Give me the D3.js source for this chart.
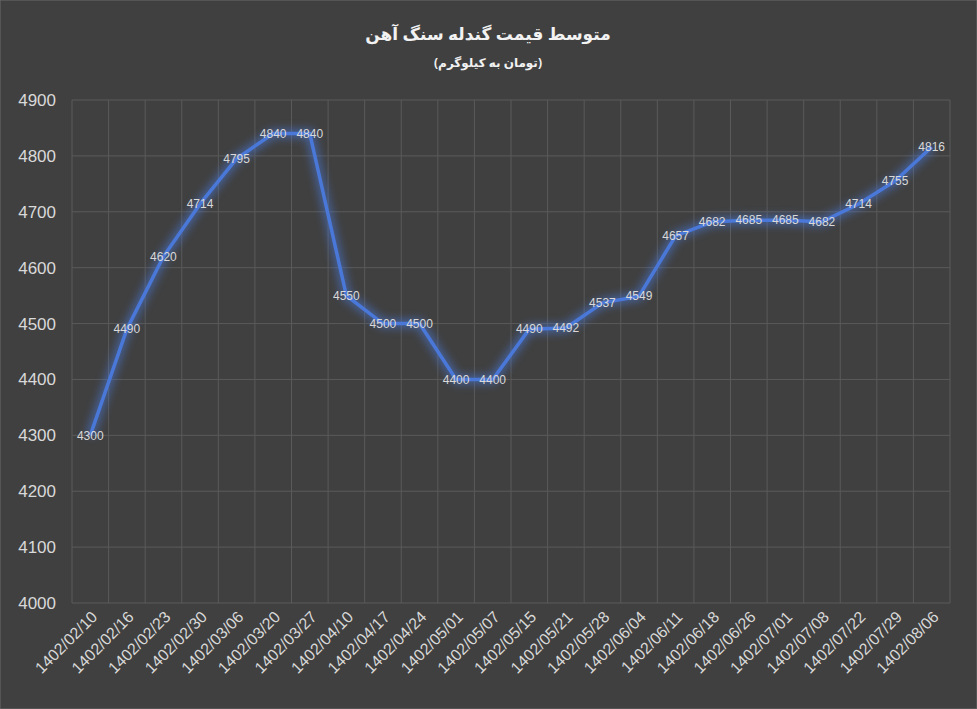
<!DOCTYPE html>
<html><head><meta charset="utf-8">
<script src="https://cdn.jsdelivr.net/npm/d3@7"></script>
<style>body{margin:0;background:#404040}</style></head>
<body><svg id="c" width="977" height="709"></svg>
<script>
const dates=["1402/02/10","1402/02/16","1402/02/23","1402/02/30","1402/03/06","1402/03/20","1402/03/27","1402/04/10","1402/04/17","1402/04/24","1402/05/01","1402/05/07","1402/05/15","1402/05/21","1402/05/28","1402/06/04","1402/06/11","1402/06/18","1402/06/26","1402/07/01","1402/07/08","1402/07/22","1402/07/29","1402/08/06"];
const prices=[4300,4490,4620,4714,4795,4840,4840,4550,4500,4500,4400,4400,4490,4492,4537,4549,4657,4682,4685,4685,4682,4714,4755,4816];
const yTicks=[4000,4100,4200,4300,4400,4500,4600,4700,4800,4900];
const title="متوسط قیمت گندله سنگ آهن", subtitle="(تومان به کیلوگرم)";
const svg=d3.select("#c");
svg.append("rect").attr("width",977).attr("height",709).attr("fill","#404040").attr("stroke","#6a6a6a");
const x=d3.scaleBand().domain(dates).range([72,950]);
const y=d3.scaleLinear().domain([4000,4900]).range([603,100]);
const g=svg.append("g");
g.selectAll(".hy").data(yTicks).join("line").attr("x1",72).attr("x2",950).attr("y1",d=>y(d)).attr("y2",d=>y(d)).attr("stroke","#5a5a5a");
g.selectAll(".vx").data(d3.range(dates.length+1)).join("line").attr("x1",i=>72+i*x.step()).attr("x2",i=>72+i*x.step()).attr("y1",100).attr("y2",603).attr("stroke","#5a5a5a");
g.selectAll(".yl").data(yTicks).join("text").attr("x",56).attr("y",d=>y(d)).attr("dy","0.35em").attr("text-anchor","end").attr("fill","#d9d9d9").attr("font-family","Liberation Sans, Arial").attr("font-size",17).text(d=>d);
g.selectAll(".xl").data(dates).join("text").attr("transform",d=>`translate(${x(d)+x.bandwidth()/2+8},${618}) rotate(-45)`).attr("text-anchor","end").attr("fill","#d9d9d9").attr("font-family","Liberation Sans, Arial").attr("font-size",16).text(d=>d);
const defs=svg.append("defs");
const f=defs.append("filter").attr("id","glow").attr("x","-20%").attr("y","-20%").attr("width","140%").attr("height","140%");
f.append("feGaussianBlur").attr("stdDeviation",4);
const line=d3.line().x((d,i)=>x(dates[i])+x.bandwidth()/2).y(d=>y(d));
svg.append("path").datum(prices).attr("d",line).attr("fill","none").attr("stroke","#4a78d8").attr("stroke-width",9).attr("opacity",0.6).attr("filter","url(#glow)");
svg.append("path").datum(prices).attr("d",line).attr("fill","none").attr("stroke","#4a78d8").attr("stroke-width",3.5).attr("stroke-linejoin","round");
svg.selectAll(".dl").data(prices).join("text").attr("x",(d,i)=>x(dates[i])+x.bandwidth()/2).attr("y",d=>y(d)).attr("dy","0.35em").attr("text-anchor","middle").attr("fill","#d9d9d9").attr("font-family","Liberation Sans, Arial").attr("font-size",12).text(d=>d);
svg.append("text").attr("x",488).attr("y",40).attr("text-anchor","middle").attr("fill","#f2f2f2").attr("font-family","Noto Sans, DejaVu Sans").attr("font-weight","bold").attr("font-size",17).text(title);
svg.append("text").attr("x",488).attr("y",67).attr("text-anchor","middle").attr("fill","#f2f2f2").attr("font-family","Noto Sans, DejaVu Sans").attr("font-weight","bold").attr("font-size",12).text(subtitle);
</script></body></html>
